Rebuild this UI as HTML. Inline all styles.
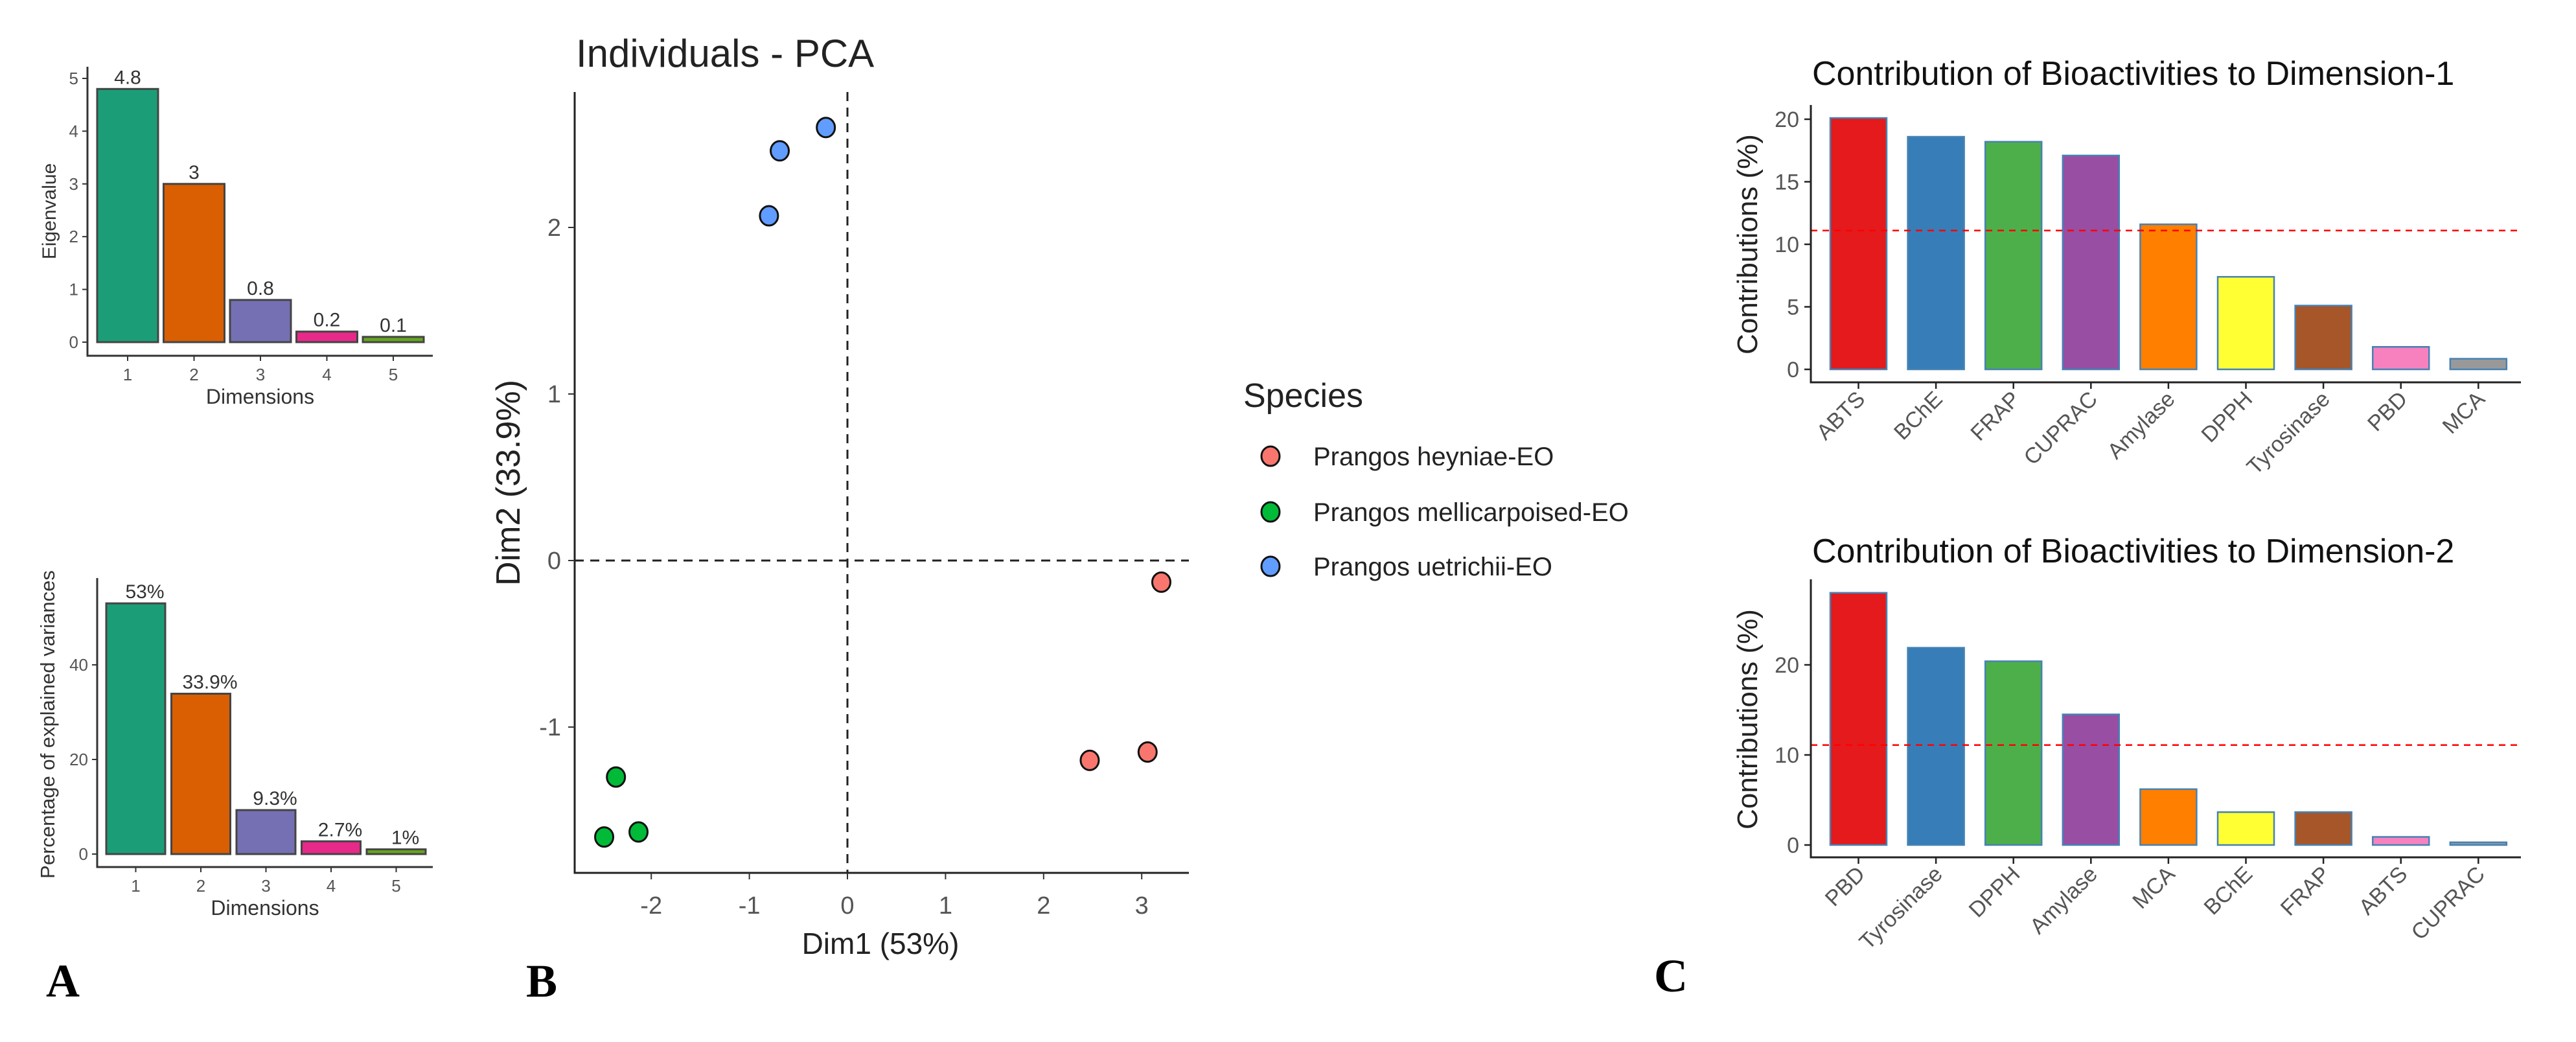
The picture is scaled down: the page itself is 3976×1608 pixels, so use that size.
<!DOCTYPE html>
<html><head><meta charset="utf-8"><style>
html,body{margin:0;padding:0;background:#fff;}
svg{display:block;font-family:"Liberation Sans",Arial,sans-serif;}
</style></head><body>
<svg id="fig" width="3976" height="1608" viewBox="0 0 3976 1608" xmlns="http://www.w3.org/2000/svg">
<rect width="3976" height="1608" fill="#fff"/>
<g id="pa"></g>
<g id="pb"></g>
<g id="pc"></g>
</svg>
<script>
const eigDims = ["1","2","3","4","5"];
const eigValues = [4.8, 3.0, 0.8, 0.2, 0.1];
const eigLabels = ["4.8","3","0.8","0.2","0.1"];
const eigTicks = [0,1,2,3,4,5];
const varValues = [53, 33.9, 9.3, 2.7, 1.0];
const varLabels = ["53%","33.9%","9.3%","2.7%","1%"];
const varTicks = [0,20,40];
const dark2 = ["#1B9E77","#D95F02","#7570B3","#E7298A","#66A61E"];

const pcaX = [3.2, 3.06, 2.47, -2.36, -2.48, -2.13, -0.22, -0.69, -0.8];
const pcaY = [-0.13, -1.15, -1.2, -1.3, -1.66, -1.63, 2.6, 2.46, 2.07];
const pcaGroup = [0,0,0,1,1,1,2,2,2];
const species = ["Prangos heyniae-EO","Prangos mellicarpoised-EO","Prangos uetrichii-EO"];
const speciesColors = ["#F8766D","#00BA38","#619CFF"];
const pcaXTicks = [-2,-1,0,1,2,3];
const pcaYTicks = [-1,0,1,2];

const dim1Cats = ["ABTS","BChE","FRAP","CUPRAC","Amylase","DPPH","Tyrosinase","PBD","MCA"];
const dim1Vals = [20.1, 18.6, 18.2, 17.1, 11.6, 7.4, 5.1, 1.8, 0.85];
const dim1Ticks = [0,5,10,15,20];
const dim2Cats = ["PBD","Tyrosinase","DPPH","Amylase","MCA","BChE","FRAP","ABTS","CUPRAC"];
const dim2Vals = [28.0, 21.9, 20.4, 14.5, 6.2, 3.65, 3.65, 0.9, 0.3];
const dim2Ticks = [0,10,20];
const refLine = 11.1;
const set1 = ["#E41A1C","#377EB8","#4DAF4A","#984EA3","#FF7F00","#FFFF33","#A65628","#F781BF","#999999"];

const NS="http://www.w3.org/2000/svg";
function mk(parent, tag, attrs, text){
  const e=document.createElementNS(NS,tag);
  for(const k in attrs) e.setAttribute(k,attrs[k]);
  if(text!==undefined) e.textContent=text;
  parent.appendChild(e); return e;
}

// ---------- Panel A ----------
const pa=document.getElementById('pa');
function scree(cfg){
  const g=mk(pa,'g',{});
  
  
  const y=v=>cfg.y0 - v*cfg.unit;
  const al=mk(g,'path',{d:`M${cfg.ax} ${cfg.top} V${cfg.axY} H${cfg.right}`,stroke:'#333',fill:'none','stroke-width':3});
  
  
  cfg.ticks.forEach(t=>{
    mk(g,'line',{x1:cfg.ax-8,x2:cfg.ax,y1:y(t),y2:y(t),stroke:'#333','stroke-width':2});
    const tl=mk(g,'text',{x:cfg.ax-14,y:y(t)+9,'text-anchor':'end','font-size':26,fill:'#555'},String(t));
    
    
  });
  cfg.vals.forEach((v,i)=>{
    const x=cfg.bx0+i*cfg.step;
    const b=mk(g,'rect',{x:x,y:y(v),width:cfg.bw,height:cfg.y0-y(v),fill:dark2[i],stroke:'#444','stroke-width':3});
    
    
    const lb=mk(g,'text',{x:x+cfg.bw/2+cfg.lblOff,y:y(v)-8,'text-anchor':'middle','font-size':30,fill:'#333'},cfg.labels[i]);
    
    
    mk(g,'line',{x1:x+cfg.bw/2,x2:x+cfg.bw/2,y1:cfg.axY,y2:cfg.axY+8,stroke:'#333','stroke-width':2});
    const tl=mk(g,'text',{x:x+cfg.bw/2,y:cfg.axY+38,'text-anchor':'middle','font-size':26,fill:'#555'},eigDims[i]);
    
    
  });
  const xt=mk(g,'text',{x:(cfg.ax+cfg.right)/2,y:cfg.axY+74,'text-anchor':'middle','font-size':32,fill:'#333'},'Dimensions');
  
  
  const yt=mk(g,'text',{x:0,y:0,'text-anchor':'middle','font-size':cfg.ytSize,fill:'#333',transform:`translate(${cfg.ytx},${cfg.yty}) rotate(-90)`},cfg.ytitle);
  
  
}
scree({name:'eigenvalue-chart',ax:135,top:103,axY:549,right:668,y0:528,unit:81.4,ticks:eigTicks,vals:eigValues,labels:eigLabels,bx0:150,step:102.5,bw:94,lblOff:0,ytitle:'Eigenvalue',ytx:86,yty:326,ytSize:30});
scree({name:'variance-chart',ax:150,top:892,axY:1338,right:668,y0:1318,unit:7.3,ticks:varTicks,vals:varValues,labels:varLabels,bx0:164,step:100.5,bw:91,lblOff:14,ytitle:'Percentage of explained variances',ytx:84,yty:1118,ytSize:31});
const la=mk(pa,'text',{x:71,y:1538,'font-family':'"Liberation Serif",serif','font-weight':'bold','font-size':72,fill:'#000'},'A');



// ---------- Panel B ----------
const pb=document.getElementById('pb');
const bx=v=>1308+v*151.4, by=v=>865-v*257;
const bt=mk(pb,'text',{x:889,y:103,'font-size':60,fill:'#222'},'Individuals - PCA');


const bal=mk(pb,'path',{d:`M887 142 V1347 H1835`,stroke:'#222',fill:'none','stroke-width':3});


const hz=mk(pb,'line',{x1:887,x2:1835,y1:by(0),y2:by(0),stroke:'#222','stroke-width':3,'stroke-dasharray':'14 10'});


const vz=mk(pb,'line',{x1:bx(0),x2:bx(0),y1:142,y2:1347,stroke:'#222','stroke-width':3,'stroke-dasharray':'14 10'});


pcaXTicks.forEach(t=>{
  mk(pb,'line',{x1:bx(t),x2:bx(t),y1:1347,y2:1357,stroke:'#333','stroke-width':2});
  const e=mk(pb,'text',{x:bx(t),y:1410,'text-anchor':'middle','font-size':38,fill:'#555'},String(t));
  
  
});
pcaYTicks.forEach(t=>{
  mk(pb,'line',{x1:877,x2:887,y1:by(t),y2:by(t),stroke:'#333','stroke-width':2});
  const e=mk(pb,'text',{x:866,y:by(t)+13,'text-anchor':'end','font-size':38,fill:'#555'},String(t));
  
  
});
pcaX.forEach((v,i)=>{
  const c=mk(pb,'ellipse',{cx:bx(v),cy:by(pcaY[i]),rx:14,ry:15,fill:speciesColors[pcaGroup[i]],stroke:'#111','stroke-width':3});
  
  
});
const bxt=mk(pb,'text',{x:1359,y:1472,'text-anchor':'middle','font-size':46,fill:'#222'},'Dim1 (53%)');


const byt=mk(pb,'text',{x:0,y:0,'text-anchor':'middle','font-size':52,fill:'#222',transform:'translate(802,745) rotate(-90)'},'Dim2 (33.9%)');


const lg=mk(pb,'g',{});


const lt=mk(lg,'text',{x:1919,y:628,'font-size':52,fill:'#222'},'Species');


species.forEach((s,i)=>{
  const yy=[704,790,874][i];
  const en=mk(lg,'g',{});
  
  
  mk(en,'ellipse',{cx:1961,cy:yy,rx:14,ry:15,fill:speciesColors[i],stroke:'#111','stroke-width':3});
  mk(en,'text',{x:2027,y:yy+14,'font-size':40,fill:'#222'},s);
});
const lbB=mk(pb,'text',{x:812,y:1538,'font-family':'"Liberation Serif",serif','font-weight':'bold','font-size':72,fill:'#000'},'B');



// ---------- Panel C ----------
const pc=document.getElementById('pc');
function contrib(cfg){
  const g=mk(pc,'g',{});
  
  
  const y=v=>cfg.y0 - v*cfg.unit;
  const t=mk(g,'text',{x:2797,y:cfg.titleY,'font-size':52,fill:'#111'},cfg.title);
  
  
  cfg.vals.forEach((v,i)=>{
    const x=2825+i*119.6;
    const b=mk(g,'rect',{x:x,y:y(v),width:87,height:Math.max(cfg.y0-y(v),1),fill:set1[i],stroke:'#4682B4','stroke-width':2.5});
    
    
    const cx=x+43.5;
    mk(g,'line',{x1:cx,x2:cx,y1:cfg.axY,y2:cfg.axY+10,stroke:'#222','stroke-width':2.5});
    const tl=mk(g,'text',{x:0,y:0,'text-anchor':'end','font-size':34,fill:'#555',transform:`translate(${cx+12},${cfg.axY+28}) rotate(-45)`},cfg.cats[i]);
    
    
  });
  const rl=mk(g,'line',{x1:2795,x2:3891,y1:y(refLine),y2:y(refLine),stroke:'#FF0000','stroke-width':2.5,'stroke-dasharray':'10 8'});
  
  
  const al=mk(g,'path',{d:`M2795 ${cfg.top} V${cfg.axY} H3891`,stroke:'#222',fill:'none','stroke-width':3});
  
  
  cfg.ticks.forEach(tk=>{
    mk(g,'line',{x1:2785,x2:2795,y1:y(tk),y2:y(tk),stroke:'#222','stroke-width':2.5});
    const e=mk(g,'text',{x:2777,y:y(tk)+12,'text-anchor':'end','font-size':34,fill:'#555'},String(tk));
    
    
  });
  const yt=mk(g,'text',{x:0,y:0,'text-anchor':'middle','font-size':44,fill:'#222',transform:`translate(2712,${cfg.ytY}) rotate(-90)`},'Contributions (%)');
  
  
}
contrib({name:'dim1-contribution-chart',title:'Contribution of Bioactivities to Dimension-1',titleY:131,top:162,axY:590,y0:570,unit:19.3,cats:dim1Cats,vals:dim1Vals,ticks:dim1Ticks,ytY:377});
contrib({name:'dim2-contribution-chart',title:'Contribution of Bioactivities to Dimension-2',titleY:868,top:894,axY:1323,y0:1304,unit:13.9,cats:dim2Cats,vals:dim2Vals,ticks:dim2Ticks,ytY:1110});
const lbC=mk(pc,'text',{x:2553,y:1530,'font-family':'"Liberation Serif",serif','font-weight':'bold','font-size':72,fill:'#000'},'C');


</script>
</body></html>
